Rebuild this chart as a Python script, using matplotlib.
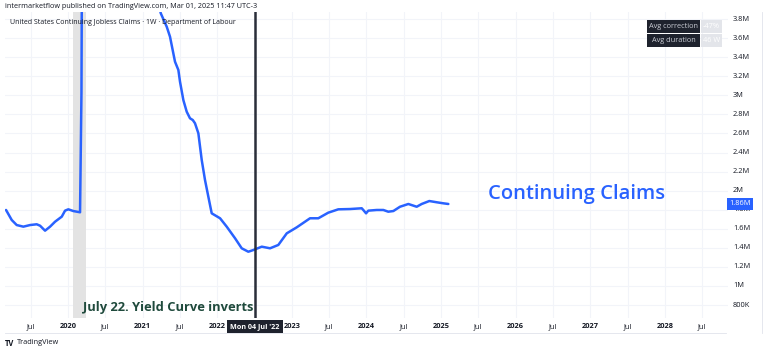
import matplotlib
matplotlib.use("Agg")
import matplotlib.pyplot as plt
from matplotlib.patches import Rectangle

# ---- data (decimal years, values in millions) ----
dates = [2019.169, 2019.245, 2019.312, 2019.401, 2019.491, 2019.580, 2019.625, 2019.692,
         2019.759, 2019.826, 2019.916, 2019.960, 2020.004, 2020.071, 2020.161,
         2020.180, 2020.200, 2020.220, 2020.250, 2020.300, 2020.360, 2020.500, 2020.700,
         2020.900, 2021.050, 2021.150,
         2021.243, 2021.323, 2021.367, 2021.434, 2021.479, 2021.501, 2021.546, 2021.591,
         2021.635, 2021.672, 2021.702, 2021.747, 2021.792, 2021.836, 2021.881, 2021.926,
         2022.038, 2022.127, 2022.239, 2022.328, 2022.417, 2022.484, 2022.597, 2022.708,
         2022.819, 2022.932, 2023.066, 2023.244, 2023.355, 2023.489, 2023.623, 2023.780,
         2023.937, 2023.958, 2023.995, 2024.025, 2024.138, 2024.227, 2024.293, 2024.361,
         2024.450, 2024.562, 2024.674, 2024.741, 2024.843, 2024.942, 2025.031, 2025.098]
claims_m = [1.797, 1.692, 1.639, 1.622, 1.639, 1.647, 1.632, 1.580,
            1.622, 1.674, 1.727, 1.790, 1.804, 1.786, 1.773,
            3.03, 7.4, 11.9, 16.0, 22.4, 24.9, 17.0, 11.8,
            5.8, 4.9, 4.2,
            3.861, 3.720, 3.615, 3.353, 3.266, 3.143, 2.950, 2.828,
            2.759, 2.741, 2.707, 2.602, 2.322, 2.112, 1.936, 1.762,
            1.710, 1.622, 1.500, 1.395, 1.359, 1.377, 1.412, 1.395,
            1.430, 1.552, 1.615, 1.710, 1.710, 1.769, 1.804, 1.807,
            1.815, 1.797, 1.762, 1.790, 1.797, 1.797, 1.779, 1.786,
            1.831, 1.860, 1.831, 1.860, 1.891, 1.878, 1.867, 1.860]

recession = (2020.071, 2020.241)
inversion_date = 2022.504
inversion_label = "Mon 04 Jul '22"
last_label = "1.86M"

x_ticks = [2019.5, 2020, 2020.5, 2021, 2021.5, 2022, 2023, 2023.5, 2024, 2024.5,
           2025, 2025.5, 2026, 2026.5, 2027, 2027.5, 2028, 2028.5]
x_labels = ["Jul", "2020", "Jul", "2021", "Jul", "2022", "2023", "Jul", "2024", "Jul",
            "2025", "Jul", "2026", "Jul", "2027", "Jul", "2028", "Jul"]
grid_x = [2019.5, 2020, 2020.5, 2021, 2021.5, 2022, 2022.5, 2023, 2023.5, 2024, 2024.5,
          2025, 2025.5, 2026, 2026.5, 2027, 2027.5, 2028, 2028.5]
y_ticks = [0.8, 1.0, 1.2, 1.4, 1.6, 1.8, 2.0, 2.2, 2.4, 2.6, 2.8, 3.0, 3.2, 3.4, 3.6, 3.8]
y_labels = ["800K", "1M", "1.2M", "1.4M", "1.6M", "1.8M", "2M", "2.2M", "2.4M", "2.6M",
            "2.8M", "3M", "3.2M", "3.4M", "3.6M", "3.8M"]

W, H = 768, 353
plt.rcParams['font.family'] = ['Open Sans', 'DejaVu Sans']
fig = plt.figure(figsize=(W / 100, H / 100), dpi=100)
fig.patch.set_facecolor('white')

def fx(x):
    return x / W

def fy(y):
    return 1 - y / H

ax = fig.add_axes([fx(5), fy(318), (728 - 5) / W, (318 - 12) / H])
ax.set_xlim(2019.155, 2028.847)
ax.set_ylim(0.6636, 3.8745)
for s in ax.spines.values():
    s.set_visible(False)
ax.set_xticks([])
ax.set_yticks([])

gcol = '#f2f4f9'
for gx in grid_x:
    ax.axvline(gx, color=gcol, lw=0.8, zorder=0)
for gy in y_ticks:
    ax.axhline(gy, color=gcol, lw=0.8, zorder=0)

ax.axvspan(recession[0], recession[1], color='#e3e3e3', zorder=1, lw=0)
ax.plot(dates, claims_m, color='#2962ff', lw=1.8, zorder=3, solid_joinstyle='round',
        solid_capstyle='round')
ax.axvline(inversion_date, color='#2a2e39', lw=1.8, zorder=4)

ax.text(2025.63, 1.965, "Continuing Claims", color='#2962ff', fontsize=14.5,
        fontweight='semibold', va='center', ha='left', zorder=5)
ax.text(2020.2, 0.77, "July 22. Yield Curve inverts", color='#1f4a3c', fontsize=9.3,
        fontweight='bold', va='center', ha='left', zorder=5)

# x tick labels
for t, l in zip(x_ticks, x_labels):
    bold = l != "Jul"
    ax.text(t, -0.028, l, transform=ax.get_xaxis_transform(), ha='center', va='center',
            fontsize=5.3, color='#131722', fontweight='bold' if bold else 'normal')
# inversion date box
ax.text(inversion_date, -0.028, inversion_label, transform=ax.get_xaxis_transform(),
        ha='center', va='center', fontsize=5.2, color='white', fontweight='bold',
        bbox=dict(boxstyle='square,pad=0.45', fc='#1e222d', ec='none'))

# y tick labels
for v, l in zip(y_ticks, y_labels):
    ax.text(1.007, v, l, transform=ax.get_yaxis_transform(), ha='left', va='center',
            fontsize=5.3, color='#131722')
ax.text(1.002, claims_m[-1], last_label, transform=ax.get_yaxis_transform(), ha='left',
        va='center', fontsize=5.3, color='white',
        bbox=dict(boxstyle='square,pad=0.3', fc='#2962ff', ec='none'))

# frame lines
fig.add_artist(plt.Line2D([fx(5), fx(726)], [fy(333), fy(333)], color='#e0e3eb', lw=0.6))
fig.add_artist(plt.Line2D([fx(762), fx(762)], [fy(12), fy(333)], color='#e0e3eb', lw=0.6))

# headers
fig.text(fx(5), fy(6.5), "intermarketflow published on TradingView.com, Mar 01, 2025 11:47 UTC-3",
         fontsize=5.2, color='#131722', va='center', ha='left')
fig.text(fx(10), fy(22), "United States Continuing Jobless Claims · 1W · Department of Labour",
         fontsize=5.0, color='#131722', va='center', ha='left')

# avg boxes
for (yy, lab, val) in [(26, "Avg correction", "-47%"), (40.5, "Avg duration", "46 W")]:
    fig.add_artist(Rectangle((fx(647), fy(yy + 6.5)), 53 / W, 13 / H, fc='#1e222d',
                             ec='none', transform=fig.transFigure))
    fig.add_artist(Rectangle((fx(701), fy(yy + 6.5)), 21 / W, 13 / H, fc='#e3e5ea',
                             ec='none', transform=fig.transFigure))
    fig.text(fx(673.5), fy(yy), lab, fontsize=5.3, color='#c9ccd4', ha='center', va='center')
    fig.text(fx(711.5), fy(yy), val, fontsize=5.3, color='#ffffff', ha='center', va='center')

# logo
fig.text(fx(5), fy(343), "TV", fontsize=5.5, fontweight='bold', color='#131722',
         va='center', ha='left')
fig.text(fx(17), fy(343), "TradingView", fontsize=5.3, color='#131722', va='center', ha='left')

fig.savefig('out.png', dpi=100, facecolor='white')
